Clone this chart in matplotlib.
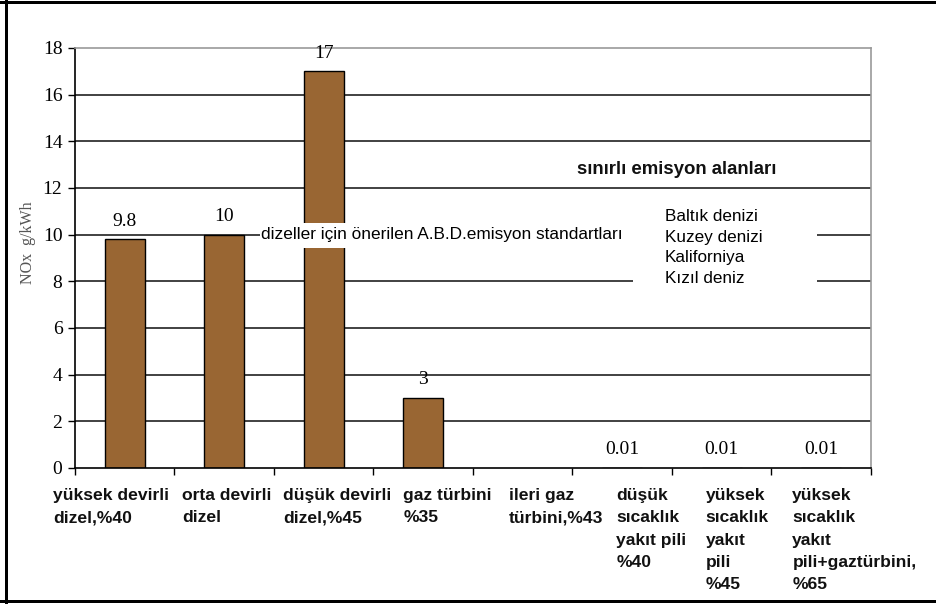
import numpy as np
import matplotlib.pyplot as plt
from matplotlib.patches import Rectangle
from matplotlib.lines import Line2D
import matplotlib.transforms as mtransforms

# NOx emissions by prime mover type (g/kWh)
categories = [
    "yüksek devirli\ndizel,%40",
    "orta devirli\ndizel",
    "düşük devirli\ndizel,%45",
    "gaz türbini\n%35",
    "ileri gaz\ntürbini,%43",
    "düşük\nsıcaklık\nyakıt pili\n%40",
    "yüksek\nsıcaklık\nyakıt\npili\n%45",
    "yüksek\nsıcaklık\nyakıt\npili+gaztürbini,\n%65",
]
nox = [9.8, 10, 17, 3, np.nan, 0.01, 0.01, 0.01]
yticks = [0, 2, 4, 6, 8, 10, 12, 14, 16, 18]
areas = ["Baltık denizi", "Kuzey denizi", "Kaliforniya", "Kızıl deniz"]

# left edge of each category label, in category units
label_left = [-0.72, 0.575, 1.59, 2.80, 3.86, 4.94, 5.84, 6.71]

sans = "Liberation Sans"
serif = "Liberation Serif"

fig = plt.figure(figsize=(9.37, 6.04), dpi=100)
ax = fig.add_axes([0.0800, 0.2252, 0.8495, 0.6954])

x = np.arange(len(categories))
ax.set_xlim(-0.5, len(categories) - 0.5)
ax.set_ylim(0, 18)

# horizontal grid
for t in yticks[1:-1]:
    ax.axhline(t, color="#333333", lw=1.3, zorder=0)

ax.bar(x, nox, width=0.4, color="#996633", edgecolor="black", lw=1, zorder=2)

for xi, v in zip(x, nox):
    if np.isnan(v):
        continue
    ax.annotate(f"{v:g}", (xi, v), xytext=(0, 13), textcoords="offset points",
                ha="center", va="center", fontsize=14, family=serif, zorder=5)

ax.set_yticks(yticks)
ax.set_yticklabels([str(t) for t in yticks], family=serif, fontsize=14)
ax.tick_params(axis="y", length=5, width=1, pad=4, direction="out")

ax.set_xticks(np.arange(-0.5, len(categories)), minor=False)
ax.set_xticklabels([])
ax.tick_params(axis="x", length=5, width=1, direction="out")

ax.spines["left"].set_color("black")
ax.spines["bottom"].set_color("black")
ax.spines["top"].set_color("#999999")
ax.spines["right"].set_color("#999999")
for s in ax.spines.values():
    s.set_linewidth(1.2)

# category labels under the axis
trans = mtransforms.blended_transform_factory(ax.transData, ax.transAxes)
for lx, lab in zip(label_left, categories):
    ax.text(lx, -0.048, lab, transform=trans, ha="left", va="top",
            family=sans, fontweight="bold", fontsize=12.6, linespacing=1.6,
            color="#111111", clip_on=False)

# US emission standard note
ax.add_patch(Rectangle((1.355, 9.43), 3.76, 1.07, fc="white", ec="none", zorder=3))
ax.text(1.37, 10, "dizeller için önerilen A.B.D.emisyon standartları",
        ha="left", va="center", family=sans, fontsize=12.4, zorder=4)

# emission control areas
ax.text(5.55, 12.8, "sınırlı emisyon alanları", ha="center", va="center",
        family=sans, fontweight="bold", fontsize=13.4, color="#111111", zorder=4)
ax.add_patch(Rectangle((5.11, 7.4), 1.85, 4.1, fc="white", ec="none", zorder=3))
ax.text(5.43, 9.45, "\n".join(areas), ha="left", va="center", family=sans,
        fontsize=12.3, linespacing=1.45, zorder=4)

fig.text(0.030, 0.599, "NOx  g/kWh", rotation=90, ha="center", va="center",
         family=serif, fontsize=11.5, color="#555555")

# outer frame
fw = 3 * 72 / 100
fig.add_artist(Line2D([6.5 / 937, 6.5 / 937], [0, 1], color="black", lw=fw))
fig.add_artist(Line2D([0, 1], [1 - 1.5 / 604, 1 - 1.5 / 604], color="black", lw=fw))
fig.add_artist(Line2D([0, 1], [3 / 604, 3 / 604], color="black", lw=fw))

fig.savefig("out.png", dpi=100, facecolor="white")
